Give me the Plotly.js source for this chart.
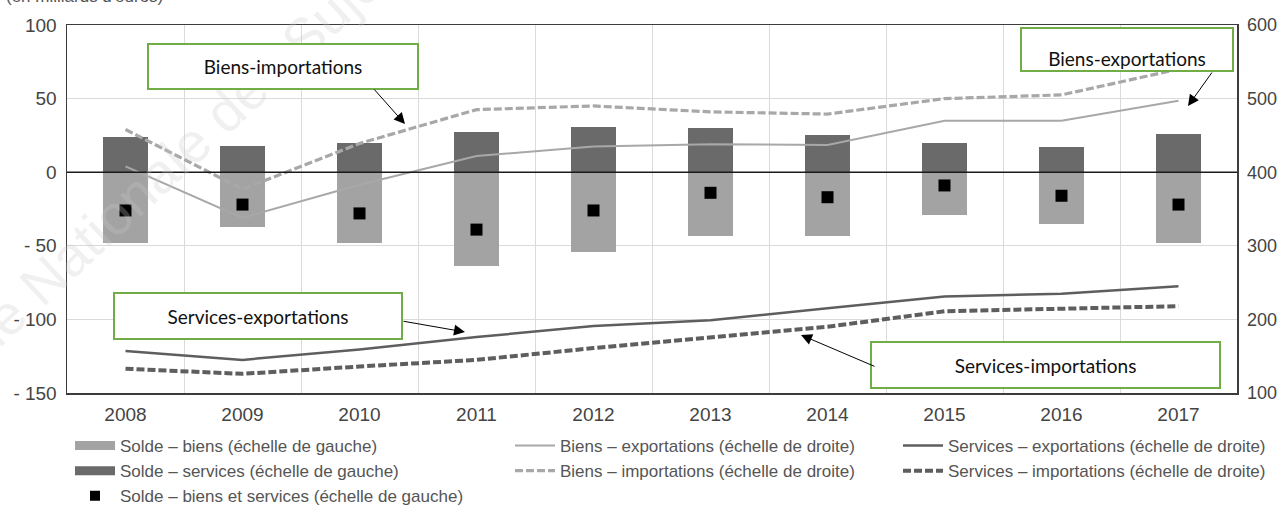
<!DOCTYPE html>
<html>
<head>
<meta charset="utf-8">
<script src="https://cdn.plot.ly/plotly-3.0.1.min.js"></script>
<style>html,body{margin:0;padding:0;background:#fff;}#chart{width:1280px;height:516px;}</style>
</head>
<body>
<div id="chart"></div>
<script>
// ---- data (milliards d'euros) ----
const years = [2008, 2009, 2010, 2011, 2012, 2013, 2014, 2015, 2016, 2017];
const soldeBiens = [-48, -37, -48, -64, -54, -43, -43, -29, -35, -48];
const soldeServices = [24, 18, 20, 27, 31, 30, 25, 20, 17, 26];
const soldeTotal = [-26, -22, -28, -39, -26, -14, -17, -9, -16, -22];
const biensExport = [408, 338, 383, 422, 435, 438, 437, 470, 470, 497];
const biensImport = [458, 377, 439, 485, 490, 482, 479, 500, 505, 540];
const servicesExport = [157, 145, 159, 176, 191, 199, 215, 231, 235, 245];
const servicesImport = [133, 126, 136, 145, 161, 175, 190, 211, 215, 218];
const leftTicks = [-150, -100, -50, 0, 50, 100];
const leftTickText = ['- 150', '- 100', '- 50', '0', '50', '100'];
const rightTicks = [100, 200, 300, 400, 500, 600];

const FONT = '"Liberation Sans", Arial, sans-serif';
const LIGHT = '#a3a3a3', DARK = '#6a6a6a';
const LINE_LIGHT = '#a8a8a8', LINE_DARK = '#5e5e5e';

const traces = [
  {type: 'bar', x: years, y: soldeBiens, width: 0.39, marker: {color: LIGHT}, name: 'Solde – biens (échelle de gauche)', showlegend: false, yaxis: 'y'},
  {type: 'bar', x: years, y: soldeServices, width: 0.39, marker: {color: DARK}, name: 'Solde – services (échelle de gauche)', showlegend: false, yaxis: 'y'},
  {type: 'scatter', mode: 'markers', x: years, y: soldeTotal, marker: {symbol: 'square', size: 12, color: '#000'}, name: 'Solde – biens et services (échelle de gauche)', showlegend: false, yaxis: 'y'},
  // legend entries for column 1
  {type: 'scatter', mode: 'lines', x: [null], y: [null], line: {color: LIGHT, width: 9}, name: 'Solde – biens (échelle de gauche)', legend: 'legend'},
  {type: 'scatter', mode: 'lines', x: [null], y: [null], line: {color: DARK, width: 9}, name: 'Solde – services (échelle de gauche)', legend: 'legend'},
  {type: 'scatter', mode: 'markers', x: [null], y: [null], marker: {symbol: 'square', size: 10, color: '#000'}, name: 'Solde – biens et services (échelle de gauche)', legend: 'legend'},
  // right-axis lines
  {type: 'scatter', mode: 'lines', x: years, y: biensExport, yaxis: 'y2', line: {color: LINE_LIGHT, width: 2}, name: 'Biens – exportations (échelle de droite)', legend: 'legend2'},
  {type: 'scatter', mode: 'lines', x: years, y: biensImport, yaxis: 'y2', line: {color: LINE_LIGHT, width: 3.2, dash: '8px,3px'}, name: 'Biens – importations (échelle de droite)', legend: 'legend2'},
  {type: 'scatter', mode: 'lines', x: years, y: servicesExport, yaxis: 'y2', line: {color: LINE_DARK, width: 2.5}, name: 'Services – exportations (échelle de droite)', legend: 'legend3'},
  {type: 'scatter', mode: 'lines', x: years, y: servicesImport, yaxis: 'y2', line: {color: LINE_DARK, width: 4, dash: '8px,3px'}, name: 'Services – importations (échelle de droite)', legend: 'legend3'}
];

const W = 1280, H = 516, L = 67, R = 43, T = 25, B = 123;
const PW = W - L - R, PH = H - T - B;
const px = v => (v - L) / PW;
const py = v => (H - B - v) / PH;

const legendCommon = {orientation: 'v', yanchor: 'top', xanchor: 'left', bgcolor: 'rgba(0,0,0,0)', font: {family: FONT, size: 17, color: '#555'}, tracegroupgap: 0, itemwidth: 40};

function box(text, cx, cy, w, h, valign) {
  return {xref: 'paper', yref: 'paper', x: px(cx), y: py(cy), xanchor: 'center', yanchor: 'middle', text: text, showarrow: false,
    width: w - 2, height: h - 2, bgcolor: '#fff', bordercolor: '#70ad47', borderwidth: 2, borderpad: 0, valign: valign || 'middle',
    font: {family: 'Lato, "Open Sans", sans-serif', size: 19, color: '#111'}};
}
function arrow(tipX, tipY, tailX, tailY) {
  return {xref: 'paper', yref: 'paper', x: px(tipX), y: py(tipY), ax: tailX - tipX, ay: tailY - tipY, text: '', showarrow: true,
    arrowhead: 2, arrowsize: 2.2, arrowwidth: 1, arrowcolor: '#000', standoff: 0, startstandoff: 0};
}

const layout = {
  width: W, height: H,
  margin: {l: L, r: R, t: T, b: B, pad: 0, autoexpand: false},
  paper_bgcolor: '#fff', plot_bgcolor: '#fff',
  barmode: 'relative', bargap: 0,
  font: {family: FONT, color: '#444'},
  xaxis: {range: [2007.5, 2017.5], tickmode: 'array', tickvals: years, ticktext: years.map(String), showgrid: false, zeroline: false,
    showline: true, mirror: true, linecolor: '#3c3c3c', linewidth: 1.5, ticks: '', ticklabelstandoff: 4,
    tickfont: {family: FONT, size: 19, color: '#444'}, automargin: false,
    minor: {tick0: 2007.5, dtick: 1, showgrid: true, gridcolor: '#dadada', gridwidth: 1, ticks: ''}},
  yaxis: {range: [-150, 100], tickmode: 'array', tickvals: leftTicks, ticktext: leftTickText, showgrid: true, gridcolor: '#dadada', gridwidth: 1.2,
    zeroline: false, showline: true, linecolor: '#3c3c3c', linewidth: 1.5, ticks: '', ticklabelstandoff: 5, automargin: false,
    tickfont: {family: FONT, size: 19, color: '#444'}},
  yaxis2: {range: [100, 600], overlaying: 'y', side: 'right', tickmode: 'array', tickvals: rightTicks, showgrid: false, zeroline: false,
    showline: true, linecolor: '#3c3c3c', linewidth: 1.5, ticks: '', ticklabelstandoff: 5, automargin: false,
    tickfont: {family: FONT, size: 18, color: '#444'}},
  shapes: [{type: 'line', xref: 'paper', x0: 0, x1: 1, yref: 'y', y0: 0, y1: 0, line: {color: '#1a1a1a', width: 1.5}, layer: 'above'}],
  legend: Object.assign({x: px(70), y: py(428)}, legendCommon),
  legend2: Object.assign({x: px(510), y: py(428)}, legendCommon),
  legend3: Object.assign({x: px(898), y: py(428)}, legendCommon),
  annotations: [
    {xref: 'paper', yref: 'paper', x: px(165), y: py(8), xanchor: 'right', yanchor: 'bottom', showarrow: false,
      text: "(en milliards d'euros)", font: {family: FONT, size: 17, color: '#555'}},
    {xref: 'paper', yref: 'paper', x: px(140), y: py(190), xanchor: 'center', yanchor: 'middle', showarrow: false, textangle: -43,
      text: 'Banque Nationale des Sujets', font: {family: 'Liberation Sans, sans-serif', size: 56, color: 'rgba(200,200,200,0.28)'}},
    box('Biens-importations', 283, 66.5, 270, 45),
    box('Biens-exportations', 1127, 49.5, 212, 43, 'bottom'),
    box('Services-exportations', 258, 316, 288, 46),
    box('Services-importations', 1045.5, 365, 349, 46),
    arrow(405, 124, 373, 88),
    arrow(1188, 106, 1213, 71),
    arrow(465, 332, 402, 321),
    arrow(801, 335, 876, 367)
  ]
};

Plotly.newPlot('chart', traces, layout, {staticPlot: true, displayModeBar: false});
</script>
</body>
</html>
